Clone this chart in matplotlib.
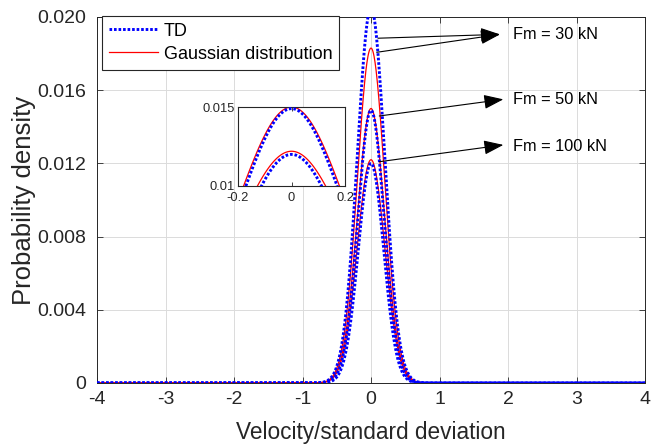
import numpy as np
import matplotlib.pyplot as plt

plt.rcParams['font.family'] = ['Liberation Sans', 'DejaVu Sans']

# values: peak density and spread of each curve
forces = ["30", "50", "100"]
td_peak = [0.0205, 0.0149, 0.0120]
td_sigma = [0.200, 0.191, 0.186]
gauss_peak = [0.0183, 0.0150, 0.0122]
gauss_sigma = [0.200, 0.199, 0.202]

x_ticks = [-4, -3, -2, -1, 0, 1, 2, 3, 4]
y_ticks = [0, 0.004, 0.008, 0.012, 0.016, 0.020]
y_labels = ["0", "0.004", "0.008", "0.012", "0.016", "0.020"]

# annotation arrows: tails near the curves, heads next to the labels
tails = [[(0.102, 0.01884), (0.083, 0.01807)], [(0.121, 0.01459)], [(0.121, 0.01209)]]
heads = [(1.883, 0.01905), (1.932, 0.01550), (1.932, 0.01301)]
label_pos = [(2.07, 0.01902), (2.07, 0.01550), (2.07, 0.01291)]

x = np.linspace(-4, 4, 1601)
dark = (0.15, 0.15, 0.15)
td_style = dict(color=(0, 0, 1), lw=2.1, dashes=(0.9, 0.65))
g_style = dict(color=(1, 0, 0), lw=0.9)


def curves(ax, which):
    lines = []
    for i in which:
        g = gauss_peak[i] * np.exp(-x**2 / (2 * gauss_sigma[i]**2))
        t = td_peak[i] * np.exp(-x**2 / (2 * td_sigma[i]**2))
        lg, = ax.plot(x, g, zorder=2, **g_style)
        lt, = ax.plot(x, t, zorder=3, **td_style)
        lines.append((lt, lg))
    return lines


fig = plt.figure(figsize=(6.51, 4.47), dpi=100)
ax = fig.add_axes([0.149, 0.1432, 0.8418, 0.8188])
lines = curves(ax, [0, 1, 2])
ax.set_xlim(-4, 4)
ax.set_ylim(0, 0.020)
ax.set_xticks(x_ticks)
ax.set_xticklabels([str(v) for v in x_ticks])
ax.set_yticks(y_ticks)
ax.set_yticklabels(y_labels)
ax.grid(True, color=(0.86, 0.86, 0.86), lw=0.7)
ax.set_axisbelow(True)
ax.tick_params(direction='in', top=True, right=True, length=4, width=0.6,
               colors=dark, labelsize=14, labelcolor=dark)
ax.tick_params(axis='x', pad=6)
ax.tick_params(axis='y', pad=8)
for s in ax.spines.values():
    s.set_color(dark)
    s.set_linewidth(0.7)
ax.set_xlabel("Velocity/standard deviation", fontsize=16.3, color=dark, labelpad=9)
ax.set_ylabel("Probability density", fontsize=18.5, color=dark, labelpad=0.5)

leg = ax.legend([lines[0][0], lines[0][1]], ["TD", "Gaussian distribution"],
                loc='upper left', bbox_to_anchor=(0.009, 1.003), fontsize=13,
                handlelength=2.7, handletextpad=0.33, borderpad=0.38,
                labelspacing=0.33, borderaxespad=0, fancybox=False, framealpha=1)
leg.get_frame().set_edgecolor(dark)
leg.get_frame().set_linewidth(0.8)

for i in range(len(forces)):
    for tl in tails[i]:
        ax.annotate("", xy=heads[i], xytext=tl,
                    arrowprops=dict(arrowstyle="-|>,head_length=0.6,head_width=0.22",
                                    color='k', lw=0.8, shrinkA=0, shrinkB=0,
                                    mutation_scale=20))
    ax.text(label_pos[i][0], label_pos[i][1], "Fm = " + forces[i] + " kN",
            fontsize=11.8, va='center', ha='left')

# inset zoom on the 50 kN and 100 kN peaks
ins = fig.add_axes([0.3656, 0.5839, 0.1644, 0.1767])
curves(ins, [1, 2])
ins.set_xlim(-0.2, 0.2)
ins.set_ylim(0.01, 0.015)
ins.set_xticks([-0.2, 0, 0.2])
ins.set_xticklabels(["-0.2", "0", "0.2"])
ins.set_yticks([0.01, 0.015])
ins.set_yticklabels(["0.01", "0.015"])
ins.tick_params(direction='in', top=True, right=True, length=3, width=0.6,
                colors=dark, labelsize=9.3, labelcolor=dark, pad=2)
ins.tick_params(axis='x', pad=4)
for s in ins.spines.values():
    s.set_color(dark)
    s.set_linewidth(0.8)

fig.savefig("out.png", dpi=100)
